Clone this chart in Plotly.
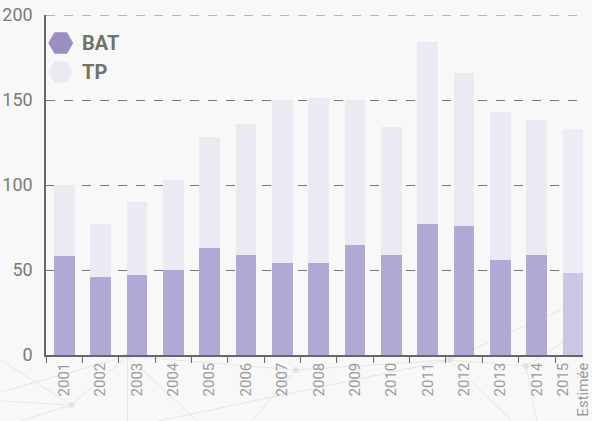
import plotly.graph_objects as go

years = ["2001", "2002", "2003", "2004", "2005", "2006", "2007", "2008", "2009",
         "2010", "2011", "2012", "2013", "2014", "2015<br>Estimée"]
bat = [58, 46, 47, 50, 63, 59, 54, 54, 65, 59, 77, 76, 56, 59, 48]
tp = [42, 31, 43, 53, 65, 77, 96, 97, 85, 75, 107, 90, 87, 79, 85]
y_ticks = [0, 50, 100, 150, 200]
series_names = ["BAT", "TP"]
legend_colors = ["#9a8ec2", "#ebeaf3"]

bat_colors = ["#aea9d5"] * (len(years) - 1) + ["#c9c7e4"]
tp_colors = ["#ebeaf3"] * (len(years) - 1) + ["#eeedf5"]

# page pixel geometry helpers
L, R, T, B = 46, 592, 15, 355
def px(xp):
    return (xp - L) / (R - L)
def py(yp):
    return (B - yp) / (B - T)

fig = go.Figure()
fig.add_trace(go.Bar(x=years, y=bat, name="BAT", marker=dict(color=bat_colors, line=dict(width=0)),
                     width=0.57, showlegend=False))
fig.add_trace(go.Bar(x=years, y=tp, name="TP", marker=dict(color=tp_colors, line=dict(width=0)),
                     width=0.57, showlegend=False))

# manual legend with large hexagon markers (overlay axes 0..1)
leg_y = [py(43), py(72)]
fig.add_trace(go.Scatter(x=[px(61), px(61)], y=leg_y, mode="markers", xaxis="x2", yaxis="y2",
                         marker=dict(symbol="hexagon2", size=25, color=legend_colors, line=dict(width=0)),
                         showlegend=False, hoverinfo="skip", cliponaxis=False))
annotations = []
for name, yv in zip(series_names, leg_y):
    annotations.append(dict(text=name, x=px(81), y=yv, xref="paper", yref="paper",
                            xanchor="left", yanchor="middle", showarrow=False,
                            font=dict(size=20, color="#6e7468", family="Roboto, sans-serif", weight="bold")))

# faint decorative network lines in the background
segments = [((0, 392), (129, 356)), ((0, 401), (72, 405)), ((72, 405), (129, 356)),
            ((129, 356), (200, 421)), ((129, 356), (129, 421)), ((129, 356), (300, 370)),
            ((300, 370), (456, 360)), ((456, 360), (534, 366)), ((456, 360), (592, 300)),
            ((300, 370), (255, 421)), ((534, 366), (545, 421)), ((534, 366), (592, 330)),
            ((72, 405), (20, 421)), ((160, 421), (456, 360)), ((456, 360), (520, 421)),
            ((0, 360), (72, 405))]
shapes = []
for (x0, y0), (x1, y1) in segments:
    shapes.append(dict(type="line", xref="paper", yref="paper", x0=px(x0), y0=py(y0),
                       x1=px(x1), y1=py(y1), line=dict(color="#e6e6e6", width=1), layer="below"))
for (xn, yn) in [(72, 405), (129, 356), (300, 370), (456, 360), (534, 366)]:
    shapes.append(dict(type="circle", xref="paper", yref="paper",
                       x0=px(xn - 3), x1=px(xn + 3), y0=py(yn + 3), y1=py(yn - 3),
                       fillcolor="#e3e3e3", line=dict(width=0), layer="below"))
# top gridline at 200 (edge of range)
shapes.append(dict(type="line", xref="paper", yref="y", x0=0, x1=1, y0=y_ticks[-1], y1=y_ticks[-1],
                   line=dict(color="#777", width=1, dash="dash"), layer="below"))

fig.update_layout(
    width=592, height=421,
    barmode="stack",
    margin=dict(l=46, r=0, t=15, b=66),
    paper_bgcolor="#f8f8f8",
    plot_bgcolor="rgba(0,0,0,0)",
    font=dict(family="Roboto, sans-serif"),
    showlegend=False,
    shapes=shapes,
    annotations=annotations,
    xaxis=dict(
        tickangle=-90, tickfont=dict(size=15, color="#9a9a9a"),
        showline=True, linecolor="#666", linewidth=1.5,
        ticks="outside", tickson="boundaries", ticklen=6, tickcolor="#666",
        showgrid=False, range=[-0.5, 14.27],
    ),
    yaxis=dict(
        range=[0, 200], tickvals=y_ticks, tickfont=dict(size=18, color="#7a7a7a"),
        showline=True, linecolor="#666", linewidth=1.5,
        showgrid=True, gridcolor="#777", griddash="dash", gridwidth=1,
        zeroline=False, ticks="", ticklabelstandoff=8,
    ),
    xaxis2=dict(overlaying="x", range=[0, 1], visible=False, fixedrange=True),
    yaxis2=dict(overlaying="y", range=[0, 1], visible=False, fixedrange=True),
)

fig.write_html("out.html", config={"displayModeBar": False},
               post_script="document.body.style.margin='0';document.body.style.background='#f8f8f8';")
